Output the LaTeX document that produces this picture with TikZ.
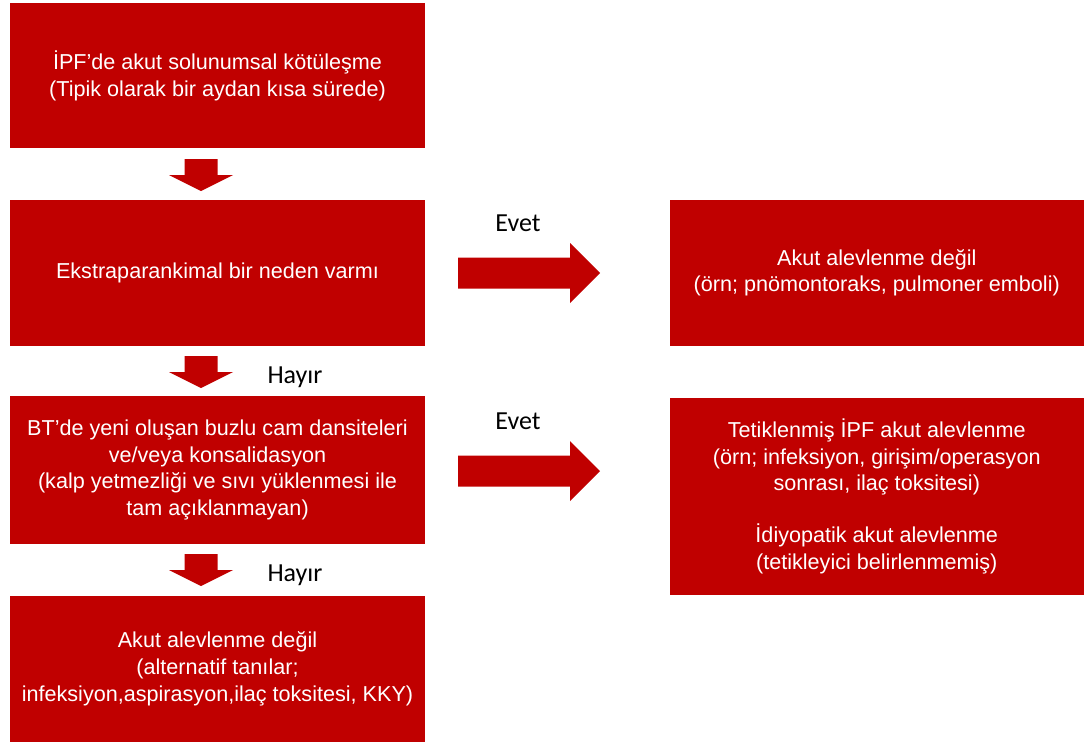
\documentclass[tikz,border=0pt]{standalone}
\usepackage{fontspec}
\setmainfont{Liberation Sans}
\newfontfamily\lblfont{Carlito}
\definecolor{boxred}{HTML}{C00000}
\tikzset{
  box/.style={fill=boxred, draw=none, text=white, align=center, inner sep=0pt,
    font=\fontsize{21.6}{26.8}\selectfont},
  lbl/.style={text=black, inner sep=0pt, font=\lblfont\fontsize{26}{30}\selectfont},
  arr/.style={fill=boxred, draw=none},
  pics/downarr/.style={code={\fill[arr] (-16.5,0) -- (16.5,0) -- (16.5,16) -- (32,16) -- (0,32) -- (-32,16) -- (-16.5,16) -- cycle;}},
  pics/rightarr/.style={code={\fill[arr] (0,-15.5) -- (112,-15.5) -- (112,-30) -- (142,0) -- (112,30) -- (112,15.5) -- (0,15.5) -- cycle;}}
}
\begin{document}
\begin{tikzpicture}[x=1pt,y=-1pt]
\useasboundingbox (0,0) rectangle (1086,742);
\node[box, minimum width=415pt, minimum height=145pt] (b1) at (217.5,75.5)
  {İPF’de akut solunumsal kötüleşme\\(Tipik olarak bir aydan kısa sürede)};
\node[box, minimum width=415pt, minimum height=146pt] (b2) at (217.5,273)
  {Ekstraparankimal bir neden varmı};
\node[box, minimum width=415pt, minimum height=148pt] (b3) at (217.5,470)
  {BT’de yeni oluşan buzlu cam dansiteleri\\ve/veya konsalidasyon\\(kalp yetmezliği ve sıvı yüklenmesi ile\\tam açıklanmayan)};
\node[box, minimum width=415pt, minimum height=146pt] (b4) at (217.5,669)
  {Akut alevlenme değil\\(alternatif tanılar;\\infeksiyon,aspirasyon,ilaç toksitesi, KKY)};
\node[box, minimum width=414.5pt, minimum height=146.5pt] (r1) at (876.75,272.75)
  {Akut alevlenme değil\\(örn; pnömontoraks, pulmoner emboli)};
\node[box, minimum width=414.5pt, minimum height=197.5pt] (r2) at (876.75,496.25)
  {Tetiklenmiş İPF akut alevlenme\\(örn; infeksiyon, girişim/operasyon\\sonrası, ilaç toksitesi)\\[25pt]İdiyopatik akut alevlenme\\(tetikleyici belirlenmemiş)};
% down arrows
\coordinate (d1) at (201,159);
\coordinate (d2) at (201,356);
\coordinate (d3) at (201,554);
\pic at (d1) {downarr};
\pic at (d2) {downarr};
\pic at (d3) {downarr};
% right arrows
\coordinate (a1) at (458,273);
\coordinate (a2) at (458,471);
\pic at (a1) {rightarr};
\pic at (a2) {rightarr};
% labels
\node[lbl] (e1) at (518,223) {Evet};
\node[lbl] (e2) at (518,421) {Evet};
\node[lbl] (h1) at (295,377) {Hayır};
\node[lbl] (h2) at (295,575) {Hayır};
\end{tikzpicture}
\end{document}
